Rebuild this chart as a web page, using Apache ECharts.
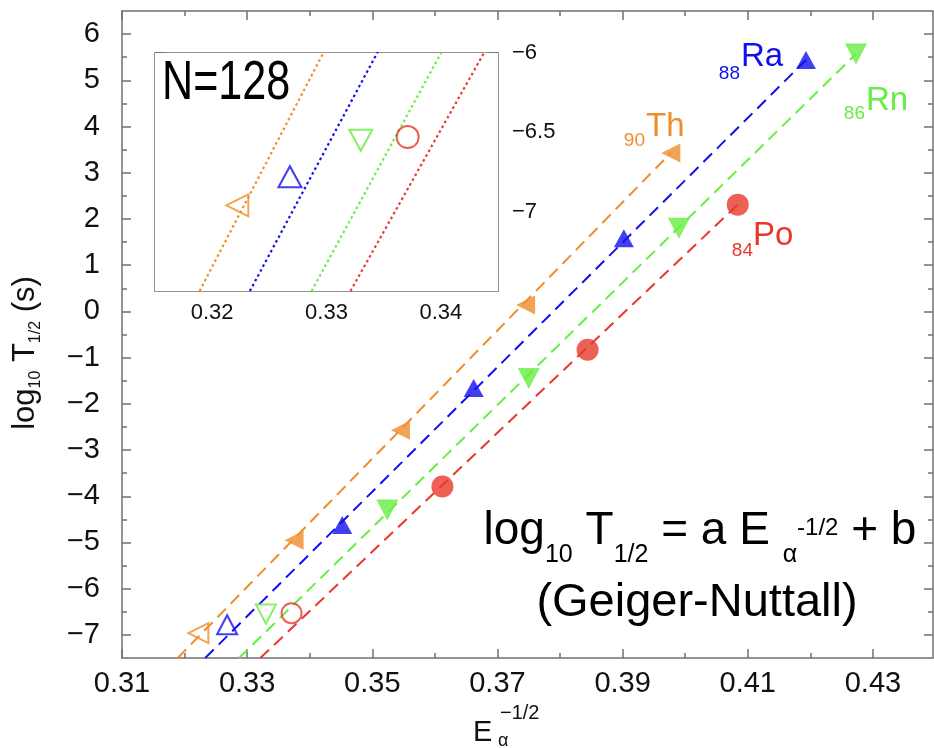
<!DOCTYPE html>
<html>
<head>
<meta charset="utf-8">
<script src="https://cdn.jsdelivr.net/npm/echarts@6.0.0/dist/echarts.min.js"></script>
<style>
html,body{margin:0;padding:0;background:#fff;}
#chart{width:934px;height:748px;}
</style>
</head>
<body>
<div id="chart"></div>
<script>
// ---------------- data ----------------
// filled markers (main panel)
const thFilled = [[0.3375,-4.95],[0.3545,-2.57],[0.3745,0.14],[0.3977,3.43]];
const raFilled = [[0.3452,-4.62],[0.3662,-1.66],[0.3902,1.58],[0.4193,5.44]];
const rnFilled = [[0.3524,-4.30],[0.3750,-1.45],[0.3990,1.80],[0.4273,5.57]];
const poFilled = [[0.3612,-3.79],[0.3844,-0.83],[0.4084,2.31]];
// open markers: N = 128 isotones
const thN128 = [[0.3222,-6.96]];
const raN128 = [[0.3268,-6.78]];
const rnN128 = [[0.3330,-6.55]];
const poN128 = [[0.3371,-6.53]];
// Geiger-Nuttall fit lines (end points)
const thFit = [[0.3189,-7.5],[0.3977,3.43]];
const raFit = [[0.3233,-7.5],[0.4193,5.44]];
const rnFit = [[0.3287,-7.5],[0.4273,5.57]];
const poFit = [[0.3321,-7.5],[0.4084,2.31]];
// ticks
const xMajorTicks = [0.31,0.33,0.35,0.37,0.39,0.41,0.43];
const xMinorTicks = [0.32,0.34,0.36,0.38,0.40,0.42];
const yMajorTicks = [-7,-6,-5,-4,-3,-2,-1,0,1,2,3,4,5,6];
const yMinorTicks = [-6.5,-5.5,-4.5,-3.5,-2.5,-1.5,-0.5,0.5,1.5,2.5,3.5,4.5,5.5];
const insetXTicks = [0.32,0.33,0.34];
const insetYTicks = [-7,-6.5,-6];

// ---------------- styling ----------------
const FONT = '"Liberation Sans", Arial, Helvetica, sans-serif';
const AX = '#707070';
const C_TH = '#F08C2C', C_RA = '#1010EE', C_RN = '#66EE44', C_PO = '#E8382C';
const minus = v => (v < 0 ? '\u2212' : '') + Math.abs(v);

function axis(grid, pos, min, max, ticks, len, showLine, label) {
  const a = {
    type: 'value', gridIndex: grid, position: pos, min: min, max: max, offset: 0,
    splitLine: {show: false}, splitArea: {show: false}, minorTick: {show: false},
    axisLine: {show: showLine, onZero: false, lineStyle: {color: AX, width: 1.5}},
    axisTick: {show: true, inside: true, length: len, customValues: ticks, lineStyle: {color: AX, width: 1.5}},
    axisLabel: {show: false},
    axisPointer: {show: false}
  };
  if (label) {
    a.axisLabel = Object.assign({show: true, customValues: ticks, fontFamily: FONT, color: '#111',
      showMinLabel: true, showMaxLabel: true, hideOverlap: false}, label);
  }
  return a;
}

const X0 = [0.31, 0.4396], Y0 = [-7.5, 6.5];
const X1 = [0.315, 0.345], Y1 = [-7.5, -6];

const xAxes = [
  axis(0, 'bottom', X0[0], X0[1], xMajorTicks, 9, true, {fontSize: 29, margin: 11, formatter: v => v.toFixed(2)}),
  axis(0, 'bottom', X0[0], X0[1], xMinorTicks, 5, false),
  axis(0, 'top', X0[0], X0[1], xMajorTicks, 9, true),
  axis(0, 'top', X0[0], X0[1], xMinorTicks, 5, false),
  axis(1, 'bottom', X1[0], X1[1], insetXTicks, 10, true, {fontSize: 22, margin: 11, formatter: v => v.toFixed(2)}),
  axis(1, 'top', X1[0], X1[1], insetXTicks, 10, true)
];
const yAxes = [
  axis(0, 'left', Y0[0], Y0[1], yMajorTicks, 9, true, {fontSize: 29, margin: 22, formatter: minus}),
  axis(0, 'left', Y0[0], Y0[1], yMinorTicks, 5, false),
  axis(0, 'right', Y0[0], Y0[1], yMajorTicks, 9, true),
  axis(0, 'right', Y0[0], Y0[1], yMinorTicks, 5, false),
  axis(1, 'left', Y1[0], Y1[1], insetYTicks, 10, true),
  axis(1, 'right', Y1[0], Y1[1], insetYTicks, 10, true, {fontSize: 22, margin: 14, formatter: minus})
];

function fitLine(data, color, xi, yi, dash, width) {
  return {type: 'line', xAxisIndex: xi, yAxisIndex: yi, data: data, symbol: 'none', showSymbol: false,
    silent: true, clip: true, z: 2, lineStyle: {color: color, width: width, type: dash}};
}
function pts(data, color, symbol, rot, size, open, xi, yi) {
  return {type: 'scatter', xAxisIndex: xi, yAxisIndex: yi, data: data, symbol: symbol,
    symbolRotate: rot, symbolSize: size, silent: true, z: 3, clip: true,
    itemStyle: open ? {color: 'rgba(255,255,255,0)', borderColor: color, borderWidth: 2}
                    : {color: color, borderWidth: 0}};
}
const DASH = [12, 7], DOT = [2.5, 3];

const series = [
  fitLine(thFit, C_TH, 0, 0, DASH, 2),
  fitLine(raFit, C_RA, 0, 0, DASH, 2),
  fitLine(rnFit, C_RN, 0, 0, DASH, 2),
  fitLine(poFit, C_PO, 0, 0, DASH, 2),
  pts(thFilled, C_TH, 'triangle', 90, [19, 19], false, 0, 0),
  pts(raFilled, C_RA, 'triangle', 0, [20, 18], false, 0, 0),
  pts(rnFilled, C_RN, 'triangle', 180, [22, 21], false, 0, 0),
  pts(poFilled, C_PO, 'circle', 0, 22, false, 0, 0),
  pts(thN128, C_TH, 'triangle', 90, [20, 20], true, 0, 0),
  pts(raN128, C_RA, 'triangle', 0, [20, 19], true, 0, 0),
  pts(rnN128, C_RN, 'triangle', 180, [20, 19], true, 0, 0),
  pts(poN128, C_PO, 'circle', 0, 20, true, 0, 0),
  // inset
  fitLine(thFit, C_TH, 4, 4, DOT, 2.2),
  fitLine(raFit, C_RA, 4, 4, DOT, 2.2),
  fitLine(rnFit, C_RN, 4, 4, DOT, 2.2),
  fitLine(poFit, C_PO, 4, 4, DOT, 2.2),
  pts(thN128, C_TH, 'triangle', 90, [22, 22], true, 4, 4),
  pts(raN128, C_RA, 'triangle', 0, [23, 21], true, 4, 4),
  pts(rnN128, C_RN, 'triangle', 180, [23, 21], true, 4, 4),
  pts(poN128, C_PO, 'circle', 0, 22, true, 4, 4)
];

// ---------------- text annotations ----------------
function txt(x, y, text, size, color, align, extra) {
  return Object.assign({type: 'text', x: x, y: y, z: 100, silent: true,
    style: {text: text, fill: color, font: 'normal ' + size + 'px ' + FONT,
      textAlign: align, align: align, textVerticalAlign: 'middle', verticalAlign: 'middle'}}, extra || {});
}
// element label: subscript Z right-aligned at sx, symbol left at bx
function elemLabel(z, sym, sx, subBase, bx, base, color) {
  return [
    txt(sx, subBase - 0.35 * 19, z, 19, color, 'right'),
    txt(bx, base - 0.35 * 33, sym, 33, color, 'left')
  ];
}
const graphics = [].concat(
  elemLabel('90', 'Th', 645, 147, 646, 138, C_TH),
  elemLabel('88', 'Ra', 740, 80, 741, 68, C_RA),
  elemLabel('86', 'Rn', 865, 120, 866, 112, C_RN),
  elemLabel('84', 'Po', 753, 257, 753, 247, C_PO),
  [
    // N=128 label in inset (condensed)
    Object.assign(txt(0, 0, 'N=128', 56, '#000', 'left'), {x: 162, y: 103 - 0.35 * 56, scaleX: 0.77}),
    // equation
    {type: 'text', x: 700, y: 531.6, z: 100, silent: true,
      style: {
        text: '{m|log}{s|10}{m| T}{s|1/2}{m| = a E }{s|α}{p|-1/2}{m| + b}',
        textAlign: 'center', align: 'center', textVerticalAlign: 'middle', verticalAlign: 'middle',
        fill: '#000',
        rich: {
          m: {fontSize: 46, fontFamily: FONT, lineHeight: 50, color: '#000'},
          s: {fontSize: 25, fontFamily: FONT, lineHeight: 25, padding: [48, 0, 0, 0], color: '#000'},
          p: {fontSize: 24, fontFamily: FONT, lineHeight: 24, padding: [0, 0, 6, 0], color: '#000'}
        }
      }},
    txt(697, 619 - 0.35 * 47, '(Geiger-Nuttall)', 47, '#000', 'center'),
    // x axis title
    txt(473, 743 - 0.35 * 29, 'E', 29, '#111', 'left'),
    txt(498, 747 - 0.35 * 18, 'α', 18, '#111', 'left'),
    txt(500, 720 - 0.35 * 20, '\u22121/2', 20, '#111', 'left'),
    // y axis title (rotated)
    {type: 'text', x: 25.5, y: 353, rotation: Math.PI / 2, z: 100, silent: true,
      style: {
        text: '{m|log}{s|10}{m| T}{s|1/2}{m| (s)}',
        textAlign: 'center', align: 'center', textVerticalAlign: 'middle', verticalAlign: 'middle',
        fill: '#111',
        rich: {
          m: {fontSize: 31, fontFamily: FONT, lineHeight: 36, color: '#111'},
          s: {fontSize: 16, fontFamily: FONT, lineHeight: 16, padding: [20, 0, 0, 0], color: '#111'}
        }
      }}
  ]
);

const chart = echarts.init(document.getElementById('chart'), null, {renderer: 'canvas'});
chart.setOption({
  animation: false,
  backgroundColor: '#fff',
  grid: [
    {left: 122, top: 11, width: 811, height: 647, containLabel: false, outerBoundsMode: 'none', show: false},
    {left: 155, top: 53, width: 343, height: 238, containLabel: false, outerBoundsMode: 'none', show: true,
      backgroundColor: '#fff', borderWidth: 0, z: 1}
  ],
  xAxis: xAxes,
  yAxis: yAxes,
  series: series,
  graphic: graphics
});
</script>
</body>
</html>
